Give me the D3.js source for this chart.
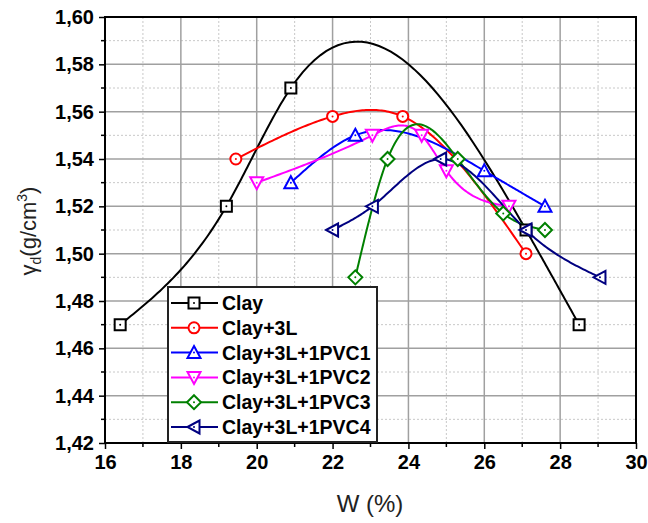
<!DOCTYPE html>
<html>
<head>
<meta charset="utf-8">
<script src="https://cdn.jsdelivr.net/npm/d3@7"></script>
<style>
  body { margin: 0; background: #fff; }
  svg text { font-family: Arial, "Liberation Sans", sans-serif; }
</style>
</head>
<body>
<div id="chart"></div>
<script>

// data
const seriesNames = ["Clay", "Clay+3L", "Clay+3L+1PVC1", "Clay+3L+1PVC2", "Clay+3L+1PVC3", "Clay+3L+1PVC4"];
const seriesColors = ["#000000", "#ff0000", "#0000ff", "#ff00ff", "#008000", "#000080"];
const seriesSymbols = ["square", "circle", "up", "down", "diamond", "left"];

const clayW = [16.4, 19.2, 20.9, 27.1, 28.5];
const clayG = [1.47, 1.52, 1.57, 1.51, 1.47];
const clay3LW = [19.45, 22.0, 23.85, 27.1];
const clay3LG = [1.54, 1.558, 1.558, 1.50];
const pvc1W = [20.9, 22.6, 26.0, 27.6];
const pvc1G = [1.53, 1.55, 1.535, 1.52];
const pvc2W = [20.0, 23.05, 24.35, 25.0, 26.65];
const pvc2G = [1.53, 1.55, 1.55, 1.535, 1.52];
const pvc3W = [22.6, 23.45, 25.3, 26.5, 27.6];
const pvc3G = [1.49, 1.54, 1.54, 1.517, 1.51];
const pvc4W = [22.0, 23.05, 24.85, 27.1, 29.05];
const pvc4G = [1.51, 1.52, 1.54, 1.51, 1.49];

const xTicks = [16, 18, 20, 22, 24, 26, 28, 30];
const yTicks = [1.42, 1.44, 1.46, 1.48, 1.50, 1.52, 1.54, 1.56, 1.58, 1.60];

const allW = [clayW, clay3LW, pvc1W, pvc2W, pvc3W, pvc4W];
const allG = [clayG, clay3LG, pvc1G, pvc2G, pvc3G, pvc4G];

const series = seriesNames.map((name, i) => ({
    name: name,
    color: seriesColors[i],
    symbol: seriesSymbols[i],
    values: allW[i].map((w, j) => ({w: w, g: allG[i][j]}))
}));

const width = 648, height = 523;
const margin = {top: 17, right: 12, bottom: 80, left: 105};
const innerW = width - margin.left - margin.right;
const innerH = height - margin.top - margin.bottom;

const svg = d3.select("#chart").append("svg")
    .attr("width", width)
    .attr("height", height);

const g = svg.append("g")
    .attr("transform", `translate(${margin.left},${margin.top})`);

const x = d3.scaleLinear().domain([16, 30]).range([0, innerW]);
const y = d3.scaleLinear().domain([1.42, 1.60]).range([innerH, 0]);

// minor grid (dotted)
const xMinor = d3.range(17, 30, 2);
const yMinor = d3.range(0, 9).map(i => 1.43 + i * 0.02);

g.append("g").selectAll("line")
    .data(xMinor).enter().append("line")
    .attr("x1", d => x(d)).attr("x2", d => x(d))
    .attr("y1", 0).attr("y2", innerH)
    .attr("stroke", "#c8c8c8").attr("stroke-width", 1)
    .attr("stroke-dasharray", "2,2");

g.append("g").selectAll("line")
    .data(yMinor).enter().append("line")
    .attr("x1", 0).attr("x2", innerW)
    .attr("y1", d => y(d)).attr("y2", d => y(d))
    .attr("stroke", "#c8c8c8").attr("stroke-width", 1)
    .attr("stroke-dasharray", "2,2");

// major grid
g.append("g").selectAll("line")
    .data(xTicks).enter().append("line")
    .attr("x1", d => x(d)).attr("x2", d => x(d))
    .attr("y1", 0).attr("y2", innerH)
    .attr("stroke", "#a0a0a0").attr("stroke-width", 1.5);

g.append("g").selectAll("line")
    .data(yTicks).enter().append("line")
    .attr("x1", 0).attr("x2", innerW)
    .attr("y1", d => y(d)).attr("y2", d => y(d))
    .attr("stroke", "#a0a0a0").attr("stroke-width", 1.5);

// axes
const fmt = d => d3.format(".2f")(d).replace(".", ",");

const xAxis = g.append("g")
    .attr("transform", `translate(0,${innerH})`)
    .call(d3.axisBottom(x).tickValues(xTicks).tickSize(6).tickPadding(6).tickFormat(d3.format("d")));
const yAxis = g.append("g")
    .call(d3.axisLeft(y).tickValues(yTicks).tickSize(6).tickPadding(5).tickFormat(fmt));

[xAxis, yAxis].forEach(ax => {
    ax.select(".domain").remove();
    ax.selectAll("line").attr("stroke", "#000").attr("stroke-width", 1.5);
    ax.selectAll("text")
        .attr("fill", "#000")
        .style("font-size", "20px")
        .style("font-weight", "bold");
});

// minor ticks
g.append("g").selectAll("line")
    .data(xMinor).enter().append("line")
    .attr("x1", d => x(d)).attr("x2", d => x(d))
    .attr("y1", innerH).attr("y2", innerH + 4)
    .attr("stroke", "#000").attr("stroke-width", 1.5);
g.append("g").selectAll("line")
    .data(yMinor).enter().append("line")
    .attr("x1", -4).attr("x2", 0)
    .attr("y1", d => y(d)).attr("y2", d => y(d))
    .attr("stroke", "#000").attr("stroke-width", 1.5);

// frame
g.append("rect")
    .attr("width", innerW).attr("height", innerH)
    .attr("fill", "none").attr("stroke", "#000").attr("stroke-width", 2);

// axis titles
svg.append("text")
    .attr("x", 370)
    .attr("y", 512)
    .attr("text-anchor", "middle")
    .style("font-size", "24px")
    .attr("fill", "#222")
    .text("W (%)");

const yTitle = svg.append("text")
    .attr("transform", "translate(36,231) rotate(-90)")
    .attr("text-anchor", "middle")
    .style("font-size", "22px")
    .attr("fill", "#222");
yTitle.append("tspan").text("γ");
yTitle.append("tspan").attr("dy", 5).style("font-size", "14px").text("d");
yTitle.append("tspan").attr("dy", -5).text("(g/cm");
yTitle.append("tspan").attr("dy", -9).style("font-size", "14px").text("3");
yTitle.append("tspan").attr("dy", 9).text(")");

// symbols
function drawSymbol(sel, symbol, color) {
    const s = 5.5;
    let path;
    if (symbol === "square") {
        path = `M${-s},${-s}H${s}V${s}H${-s}Z`;
    } else if (symbol === "circle") {
        path = `M${s},0A${s},${s} 0 1,1 ${-s},0A${s},${s} 0 1,1 ${s},0Z`;
    } else if (symbol === "up") {
        path = `M0,${-s - 1}L${s + 1},${s}L${-s - 1},${s}Z`;
    } else if (symbol === "down") {
        path = `M0,${s + 1}L${s + 1},${-s}L${-s - 1},${-s}Z`;
    } else if (symbol === "diamond") {
        path = `M0,${-s - 1.5}L${s + 1.5},0L0,${s + 1.5}L${-s - 1.5},0Z`;
    } else {
        path = `M${-s - 1},0L${s},${-s - 1}L${s},${s + 1}Z`;
    }
    sel.append("path")
        .attr("d", path)
        .attr("fill", "#fff")
        .attr("stroke", color)
        .attr("stroke-width", 2);
    sel.append("circle")
        .attr("r", 1)
        .attr("fill", color);
}

// natural cubic spline y(x) through the points, sampled for drawing
function splinePath(pts) {
    const n = pts.length;
    const xs = pts.map(p => p.w), ys = pts.map(p => p.g);
    const h = d3.range(n - 1).map(i => xs[i + 1] - xs[i]);
    const m = new Array(n).fill(0);
    // tridiagonal solve for second derivatives
    const a = [], b = [], c = [], r = [];
    for (let i = 1; i < n - 1; i++) {
        a.push(h[i - 1]);
        b.push(2 * (h[i - 1] + h[i]));
        c.push(h[i]);
        r.push(6 * ((ys[i + 1] - ys[i]) / h[i] - (ys[i] - ys[i - 1]) / h[i - 1]));
    }
    const k = r.length;
    for (let i = 1; i < k; i++) {
        const f = a[i] / b[i - 1];
        b[i] -= f * c[i - 1];
        r[i] -= f * r[i - 1];
    }
    const sol = new Array(k).fill(0);
    for (let i = k - 1; i >= 0; i--) {
        sol[i] = (r[i] - (i < k - 1 ? c[i] * sol[i + 1] : 0)) / b[i];
    }
    for (let i = 0; i < k; i++) m[i + 1] = sol[i];

    const out = [];
    for (let i = 0; i < n - 1; i++) {
        const steps = 40;
        for (let j = 0; j <= steps; j++) {
            if (i > 0 && j === 0) continue;
            const t = xs[i] + h[i] * j / steps;
            const A = (xs[i + 1] - t) / h[i], B = (t - xs[i]) / h[i];
            const v = A * ys[i] + B * ys[i + 1]
                + ((A * A * A - A) * m[i] + (B * B * B - B) * m[i + 1]) * h[i] * h[i] / 6;
            out.push({w: t, g: v});
        }
    }
    return out;
}

const line = d3.line()
    .x(d => x(d.w))
    .y(d => y(d.g));

const plot = g.append("g");

series.forEach(s => {
    plot.append("path")
        .datum(splinePath(s.values))
        .attr("fill", "none")
        .attr("stroke", s.color)
        .attr("stroke-width", 2)
        .attr("d", line);
});

series.forEach(s => {
    plot.selectAll(null)
        .data(s.values)
        .enter().append("g")
        .attr("transform", d => `translate(${x(d.w)},${y(d.g)})`)
        .each(function () { drawSymbol(d3.select(this), s.symbol, s.color); });
});

// legend
const legend = svg.append("g").attr("transform", "translate(168,287)");
legend.append("rect")
    .attr("width", 209).attr("height", 155)
    .attr("fill", "#fff").attr("stroke", "#222").attr("stroke-width", 2);

series.forEach((s, i) => {
    const row = legend.append("g").attr("transform", `translate(0,${16 + i * 24.8})`);
    row.append("line")
        .attr("x1", 3).attr("x2", 50)
        .attr("stroke", s.color).attr("stroke-width", 2);
    const m = row.append("g").attr("transform", "translate(26,0)");
    drawSymbol(m, s.symbol, s.color);
    row.append("text")
        .attr("x", 54)
        .attr("dy", "0.36em")
        .style("font-size", "19.5px")
        .style("font-weight", "bold")
        .attr("fill", "#000")
        .text(s.name);
});

</script>
</body>
</html>
